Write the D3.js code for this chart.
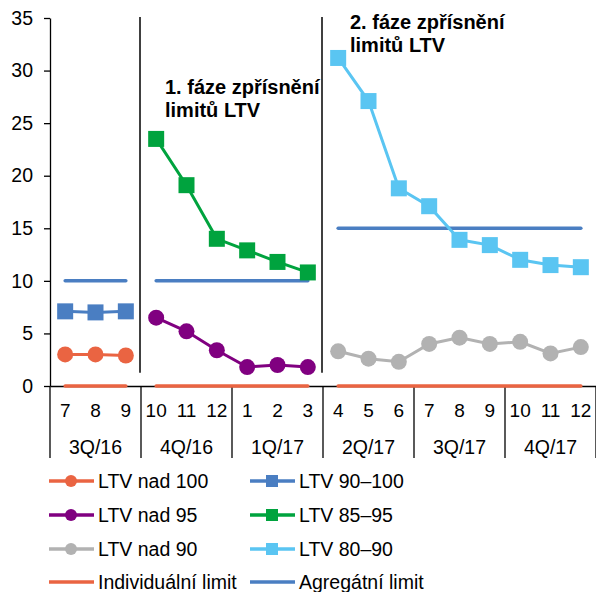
<!DOCTYPE html>
<html>
<head>
<meta charset="utf-8">
<script src="https://cdn.jsdelivr.net/npm/d3@7"></script>
<style>
  body { margin: 0; background: #fff; }
  text { font-family: Arial, "Liberation Sans", sans-serif; }
</style>
</head>
<body>
<div id="chart"></div>
<script>
// categories
const months = ["7", "8", "9", "10", "11", "12", "1", "2", "3", "4", "5", "6", "7", "8", "9", "10", "11", "12"];
const quarters = ["3Q/16", "4Q/16", "1Q/17", "2Q/17", "3Q/17", "4Q/17"];
// phase of LTV limits each month belongs to
const phases = [0, 0, 0, 1, 1, 1, 1, 1, 1, 2, 2, 2, 2, 2, 2, 2, 2, 2];
const yTicks = [0, 5, 10, 15, 20, 25, 30, 35];

// series values (null = not reported)
const ltvNad100 = [3.0, 3.0, 2.9, null, null, null, null, null, null, null, null, null, null, null, null, null, null, null];
const ltv90to100 = [7.1, 7.0, 7.1, null, null, null, null, null, null, null, null, null, null, null, null, null, null, null];
const ltvNad95 = [null, null, null, 6.5, 5.2, 3.4, 1.8, 2.0, 1.8, null, null, null, null, null, null, null, null, null];
const ltv85to95 = [null, null, null, 23.5, 19.1, 14.0, 12.9, 11.8, 10.8, null, null, null, null, null, null, null, null, null];
const ltvNad90 = [null, null, null, null, null, null, null, null, null, 3.3, 2.6, 2.3, 4.0, 4.6, 4.0, 4.2, 3.1, 3.7];
const ltv80to90 = [null, null, null, null, null, null, null, null, null, 31.2, 27.1, 18.8, 17.1, 13.9, 13.4, 12.0, 11.5, 11.3];
const individualLimit = [0, 0, 0, 0, 0, 0, 0, 0, 0, 0, 0, 0, 0, 0, 0, 0, 0, 0];
const aggregateLimit = [10, 10, 10, 10, 10, 10, 10, 10, 10, 15, 15, 15, 15, 15, 15, 15, 15, 15];

const phaseNotes = [
    { after: 2, lines: ["1. fáze zpřísnění", "limitů LTV"] },
    { after: 8, lines: ["2. fáze zpřísnění", "limitů LTV"] }
];

const colors = {
    orange: "#EA6442",
    blue: "#4A7EC2",
    purple: "#800080",
    green: "#00A33E",
    grey: "#B2B2B2",
    light: "#5AC5F2"
};

const series = [
    { name: "LTV nad 100", values: ltvNad100, color: colors.orange, shape: "circle" },
    { name: "LTV 90–100", values: ltv90to100, color: colors.blue, shape: "square" },
    { name: "LTV nad 95", values: ltvNad95, color: colors.purple, shape: "circle" },
    { name: "LTV 85–95", values: ltv85to95, color: colors.green, shape: "square" },
    { name: "LTV nad 90", values: ltvNad90, color: colors.grey, shape: "circle" },
    { name: "LTV 80–90", values: ltv80to90, color: colors.light, shape: "square" }
];
const limits = [
    { name: "Individuální limit", values: individualLimit, color: colors.orange },
    { name: "Agregátní limit", values: aggregateLimit, color: colors.blue }
];

const W = 596, H = 592;
const plotLeft = 50, plotRight = 596, plotTop = 18, plotBottom = 386;

const svg = d3.select("#chart").append("svg")
    .attr("width", W)
    .attr("height", H);

const idx = d3.range(months.length);
const x = d3.scaleBand().domain(idx).range([plotLeft, plotRight]);
const y = d3.scaleLinear().domain([0, 35]).range([plotBottom, plotTop]);
const cx = i => x(i) + x.bandwidth() / 2;

// y axis
const yAxis = svg.append("g")
    .attr("transform", `translate(${plotLeft},0)`)
    .call(d3.axisLeft(y).tickValues(yTicks).tickSize(6).tickSizeOuter(0).tickPadding(11));
yAxis.selectAll("text").attr("font-size", 19.5).attr("fill", "#000").attr("font-family", "Arial, 'Liberation Sans', sans-serif");
yAxis.selectAll("line, path").attr("stroke", "#000").attr("stroke-width", 1.3);

// x axis (month labels)
const xAxis = svg.append("g")
    .attr("transform", `translate(0,${plotBottom})`)
    .call(d3.axisBottom(x).tickSize(0).tickSizeOuter(0).tickPadding(18).tickFormat(i => months[i]));
xAxis.selectAll("text").attr("font-size", 19).attr("fill", "#000").attr("font-family", "Arial, 'Liberation Sans', sans-serif");
xAxis.select("path").attr("stroke", "#000").attr("stroke-width", 1.3);

// quarter separators and labels
const qStep = x.bandwidth() * 3;
svg.append("g").selectAll("line")
    .data(d3.range(quarters.length + 1))
    .join("line")
    .attr("x1", q => plotLeft + q * qStep)
    .attr("x2", q => plotLeft + q * qStep)
    .attr("y1", plotBottom)
    .attr("y2", plotBottom + 72)
    .attr("stroke", "#000")
    .attr("stroke-width", 1.3);
svg.append("g").selectAll("text")
    .data(quarters)
    .join("text")
    .attr("x", (d, q) => plotLeft + (q + 0.5) * qStep)
    .attr("y", plotBottom + 68)
    .attr("text-anchor", "middle")
    .attr("font-size", 19.5)
    .text(d => d);

// phase boundaries with notes
const boundaryX = i => (x(i) + x.bandwidth() + x(i + 1)) / 2;
phaseNotes.forEach(n => {
    const bx = boundaryX(n.after);
    svg.append("line")
        .attr("x1", bx - 1).attr("x2", bx - 1)
        .attr("y1", y(35) - 1).attr("y2", y(1.25))
        .attr("stroke", "#000").attr("stroke-width", 1.5);
});
phaseNotes.forEach((n, k) => {
    const bx = boundaryX(n.after);
    const tx = bx + (k === 0 ? 24 : 27);
    const t = svg.append("text")
        .attr("x", tx)
        .attr("y", k === 0 ? 94 : 29)
        .attr("font-size", 20)
        .attr("font-weight", "bold");
    n.lines.forEach((l, j) => t.append("tspan")
        .attr("x", tx)
        .attr("dy", j === 0 ? 0 : 23)
        .text(l));
});

// limit lines, split by phase
const groups = d3.groups(idx, i => phases[i]);
limits.forEach(lim => {
    groups.forEach(([p, ids]) => {
        svg.append("path")
            .attr("fill", "none")
            .attr("stroke", lim.color)
            .attr("stroke-width", 3.5)
            .attr("stroke-linecap", "round")
            .attr("d", d3.line().x(i => cx(i)).y(i => y(lim.values[i]))(ids));
    });
});

// data series
series.forEach(s => {
    const pts = idx.filter(i => s.values[i] != null);
    svg.append("path")
        .attr("fill", "none")
        .attr("stroke", s.color)
        .attr("stroke-width", 3)
        .attr("d", d3.line().x(i => cx(i)).y(i => y(s.values[i]))(pts));
    if (s.shape === "circle") {
        svg.append("g").selectAll("circle")
            .data(pts)
            .join("circle")
            .attr("cx", i => cx(i))
            .attr("cy", i => y(s.values[i]))
            .attr("r", 8)
            .attr("fill", s.color);
    } else {
        svg.append("g").selectAll("rect")
            .data(pts)
            .join("rect")
            .attr("x", i => cx(i) - 8)
            .attr("y", i => y(s.values[i]) - 8)
            .attr("width", 16)
            .attr("height", 16)
            .attr("fill", s.color);
    }
});

// legend
const legendItems = [
    [series[0], series[2], series[4], limits[0]],
    [series[1], series[3], series[5], limits[1]]
];
const colX = [49, 250];
const rowY = [481, 515, 549, 582];
legendItems.forEach((col, c) => {
    col.forEach((it, r) => {
        const g = svg.append("g").attr("transform", `translate(${colX[c]},${rowY[r]})`);
        g.append("line").attr("x1", 0).attr("x2", 45).attr("y1", 0).attr("y2", 0)
            .attr("stroke", it.color).attr("stroke-width", 3.5);
        if (it.shape === "circle") {
            g.append("circle").attr("cx", 22).attr("cy", 0).attr("r", 6).attr("fill", it.color);
        } else if (it.shape === "square") {
            g.append("rect").attr("x", 16).attr("y", -6).attr("width", 12).attr("height", 12).attr("fill", it.color);
        }
        g.append("text").attr("x", 49).attr("y", 0).attr("dy", "0.35em")
            .attr("font-size", 19.5).text(it.name);
    });
});
</script>
</body>
</html>
